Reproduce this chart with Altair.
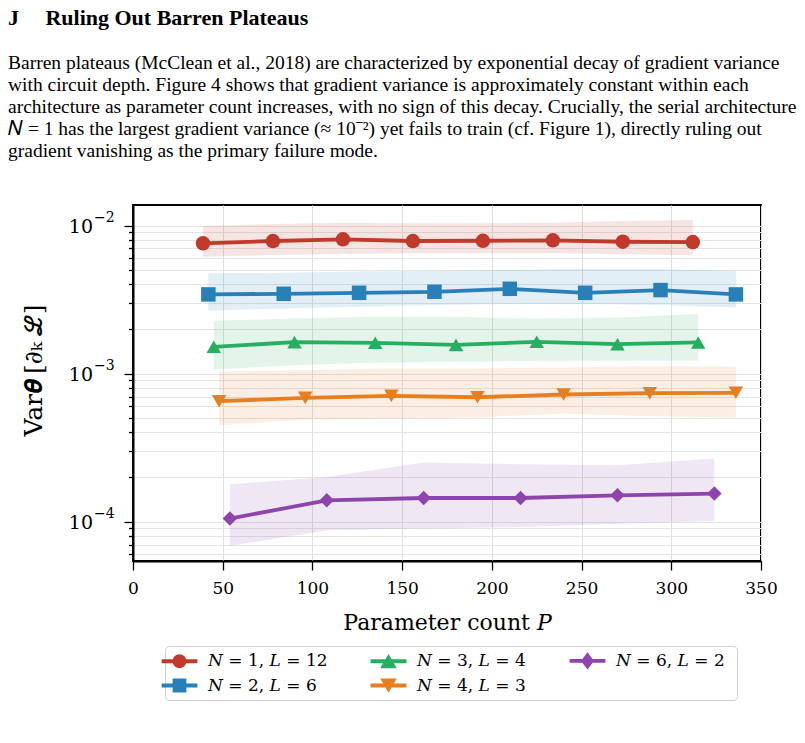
import altair as alt
import pandas as pd

# ---- series: parameter count P, mean gradient variance and its spread band ----
series_labels = [
    "\U0001D441 = 1,  \U0001D43F = 12",
    "\U0001D441 = 2,  \U0001D43F = 6",
    "\U0001D441 = 3,  \U0001D43F = 4",
    "\U0001D441 = 4,  \U0001D43F = 3",
    "\U0001D441 = 6,  \U0001D43F = 2",
]

p_n1 = [39, 78, 117, 156, 195, 234, 273, 312]
var_n1 = [0.00758, 0.00786, 0.00807, 0.00786, 0.00789, 0.00794, 0.00777, 0.00773]
lo_n1 = [0.00615, 0.00632, 0.00642, 0.00649, 0.00649, 0.00649, 0.00639, 0.00629]
hi_n1 = [0.00992, 0.01023, 0.01044, 0.01035, 0.01035, 0.01044, 0.01073, 0.01090]

p_n2 = [42, 84, 126, 168, 210, 252, 294, 336]
var_n2 = [0.003425, 0.003458, 0.003512, 0.003568, 0.003738, 0.003512, 0.003664, 0.003425]
lo_n2 = [0.002654, 0.002755, 0.002825, 0.002900, 0.002945, 0.002945, 0.002900, 0.002798]
hi_n2 = [0.004751, 0.004796, 0.004901, 0.004948, 0.005002, 0.005104, 0.005057, 0.004948]

p_n3 = [45, 90, 135, 180, 225, 270, 315]
var_n3 = [0.001516, 0.001631, 0.001613, 0.001563, 0.001638, 0.001580, 0.001623]
lo_n3 = [0.001066, 0.001140, 0.001181, 0.001200, 0.001219, 0.001219, 0.001219]
hi_n3 = [0.002271, 0.002358, 0.002418, 0.002418, 0.002343, 0.002394, 0.002521]

p_n4 = [48, 96, 144, 192, 240, 288, 336]
var_n4 = [6.51e-4, 6.85e-4, 7.07e-4, 6.92e-4, 7.22e-4, 7.37e-4, 7.41e-4]
lo_n4 = [4.48e-4, 4.89e-4, 4.97e-4, 5.05e-4, 5.37e-4, 5.15e-4, 5.05e-4]
hi_n4 = [1.027e-3, 1.059e-3, 1.083e-3, 1.083e-3, 1.100e-3, 1.122e-3, 1.110e-3]

p_n6 = [54, 108, 162, 216, 270, 324]
var_n6 = [1.048e-4, 1.393e-4, 1.444e-4, 1.444e-4, 1.506e-4, 1.546e-4]
lo_n6 = [6.84e-5, 8.73e-5, 8.97e-5, 9.19e-5, 9.69e-5, 1.009e-4]
hi_n6 = [1.788e-4, 2.003e-4, 2.506e-4, 2.440e-4, 2.403e-4, 2.667e-4]

colors = ["#c0392b", "#2980b9", "#27ae60", "#e67e22", "#8e44ad"]
shapes = ["circle", "square", "triangle-up", "triangle-down", "diamond"]

# legend glyphs: a short line segment with the series marker on it
STUB = "M-2.6,-0.28H2.6V0.28H-2.6Z "
legend_glyphs = [
    STUB + "M1,0A1,1 0 1,1 -1,0A1,1 0 1,1 1,0Z",
    STUB + "M-1,-1H1V1H-1Z",
    STUB + "M0,-1.05L1.2,1.0L-1.2,1.0Z",
    STUB + "M0,1.05L-1.2,-1.0L1.2,-1.0Z",
    STUB + "M-0.95,0L0,-1.25L0.95,0L0,1.25Z",
]

x_ticks = [0, 50, 100, 150, 200, 250, 300, 350]
y_ticks = [m * 10.0 ** e for e in (-5, -4, -3) for m in range(1, 10)] + [1e-2]
y_ticks = [v for v in y_ticks if v >= 5.5e-5]
y_major = [1e-2, 1e-3, 1e-4]
y_major_base = ["10", "10", "10"]
y_major_exp = ["\u22122", "\u22123", "\u22124"]

heading = "J\u00a0\u00a0\u00a0\u00a0\u2009Ruling Out Barren Plateaus"
paragraph = [
    "Barren plateaus (McClean et al., 2018) are characterized by exponential decay of gradient variance",
    "with circuit depth.  Figure 4 shows that gradient variance is approximately constant within each",
    "architecture as parameter count increases, with no sign of this decay. Crucially, the serial architecture",
    "\U0001D441 = 1 has the largest gradient variance (\u2248 10\u207b\u00b2) yet fails to train (cf. Figure 1), directly ruling out",
    "gradient vanishing as the primary failure mode.",
]

# ---- long-form table ----
rows = []
for lab, ps, vs, los, his in zip(
    series_labels,
    [p_n1, p_n2, p_n3, p_n4, p_n6],
    [var_n1, var_n2, var_n3, var_n4, var_n6],
    [lo_n1, lo_n2, lo_n3, lo_n4, lo_n6],
    [hi_n1, hi_n2, hi_n3, hi_n4, hi_n6],
):
    for p, v, lo, hi in zip(ps, vs, los, his):
        rows.append({"label": lab, "P": p, "var": v, "lo": lo, "hi": hi})
df = pd.DataFrame(rows)
ytl = pd.DataFrame({"v": y_major, "base": y_major_base, "exp": y_major_exp})

color_scale = alt.Scale(domain=series_labels, range=colors)
shape_scale = alt.Scale(domain=series_labels, range=shapes)
glyph_scale = alt.Scale(domain=series_labels, range=legend_glyphs)

TEXT_FONT = "Liberation Serif"
CHART_FONT = "DejaVu Serif"
major = "abs(log(datum.value)/LN10 - round(log(datum.value)/LN10)) < 0.001"

x_enc = alt.X(
    "P:Q",
    scale=alt.Scale(domain=[0, 350], nice=False, zero=False),
    axis=alt.Axis(
        values=x_ticks,
        title="Parameter count \U0001D443",
        labelFlush=False,
        tickSize=9,
        tickWidth=1.3,
        labelPadding=10,
        titlePadding=16,
        gridColor="#dedede",
        gridWidth=1,
    ),
)
y_scale = alt.Scale(type="log", domain=[5.42e-5, 0.01376], nice=False)
y_axis = alt.Axis(
    values=y_ticks,
    labels=False,
    tickSize={"condition": {"test": major, "value": 9}, "value": 4.5},
    tickWidth=1.3,
    title="Var\U0001D73D\u2009[\u2202\u2096\u2009\u2112]",
    titleFontSize=25,
    titlePadding=77,
    titleY=165,
    gridColor="#e4e4e4",
    gridWidth=1,
)

base = alt.Chart(df)

band = base.mark_area(opacity=0.13).encode(
    x=x_enc,
    y=alt.Y("lo:Q", scale=y_scale, axis=y_axis),
    y2="hi:Q",
    color=alt.Color("label:N", scale=color_scale, legend=None),
)

line = base.mark_line(strokeWidth=3.8).encode(
    x="P:Q",
    y="var:Q",
    color=alt.Color("label:N", scale=color_scale, legend=None),
)

points = base.mark_point(filled=True, opacity=1, size=210).encode(
    x="P:Q",
    y="var:Q",
    color=alt.Color("label:N", scale=color_scale, legend=None),
    shape=alt.Shape("label:N", scale=shape_scale, legend=None),
)

# legend-only layer (no rows drawn): line stub + marker glyphs
leg = alt.Legend(
    orient="none",
    legendX=32,
    legendY=441,
    direction="vertical",
    columns=3,
    title=None,
    labelFont=CHART_FONT,
    labelFontSize=17,
    labelOffset=20,
    symbolSize=190,
    symbolStrokeWidth=0,
    symbolOpacity=1,
    padding=6,
    rowPadding=6,
    columnPadding=37,
    strokeColor="#cfcfcf",
    cornerRadius=4,
)
legend_layer = (
    base.transform_filter("false")
    .mark_point(filled=True, opacity=1)
    .encode(
        x="P:Q",
        y="var:Q",
        color=alt.Color("label:N", scale=color_scale, legend=leg),
        shape=alt.Shape("label:N", scale=glyph_scale, legend=leg),
    )
)

# y tick labels written as 10 with a raised exponent
ylab_base = (
    alt.Chart(ytl)
    .mark_text(align="right", baseline="middle", font=CHART_FONT, fontSize=19, dy=1)
    .encode(x=alt.value(-40), y=alt.Y("v:Q", scale=y_scale), text="base:N")
)
ylab_exp = (
    alt.Chart(ytl)
    .mark_text(align="left", baseline="middle", font=CHART_FONT, fontSize=14, dy=-8)
    .encode(x=alt.value(-39), y=alt.Y("v:Q", scale=y_scale), text="exp:N")
)

chart = (
    alt.layer(band, line, points, legend_layer, ylab_base, ylab_exp)
    .resolve_scale(shape="independent")
    .resolve_legend(color="independent", shape="independent")
    .properties(
        width=628,
        height=356,
        autosize=alt.AutoSizeParams(type="none"),
        padding={"left": 133, "top": 205, "right": 44, "bottom": 182},
        title=alt.TitleParams(
            text=heading,
            subtitle=paragraph,
            anchor="start",
            frame="group",
            dx=-125,
            font=TEXT_FONT,
            fontSize=22,
            fontWeight="bold",
            color="black",
            subtitleFont=TEXT_FONT,
            subtitleFontSize=19.5,
            subtitleColor="black",
            subtitleLineHeight=22,
            subtitlePadding=24,
            offset=44,
        ),
    )
    .configure(background="white")
    .configure_view(stroke="black", strokeWidth=2)
    .configure_axis(
        labelFont=CHART_FONT,
        labelFontSize=17,
        labelColor="black",
        titleFont=CHART_FONT,
        titleFontSize=22,
        titleFontWeight="normal",
        titleColor="black",
        domainColor="black",
        domainWidth=2,
        tickColor="black",
    )
)

chart.save("out.html", embed_options={"renderer": "svg", "actions": False})
